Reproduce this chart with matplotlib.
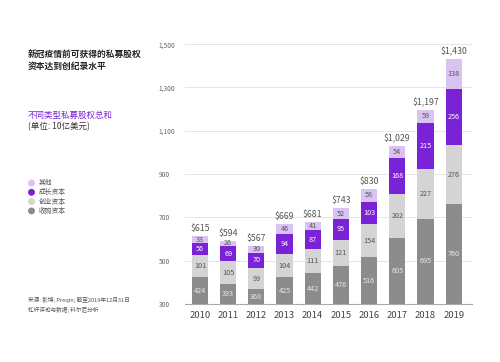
import matplotlib
matplotlib.use("Agg")
import matplotlib.pyplot as plt

plt.rcParams['font.family'] = ['Noto Sans CJK SC', 'DejaVu Sans']

years = ['2010', '2011', '2012', '2013', '2014', '2015', '2016', '2017', '2018', '2019']
buyout = [424, 393, 368, 425, 442, 476, 516, 605, 695, 760]
venture = [101, 105, 99, 104, 111, 121, 154, 202, 227, 276]
growth = [56, 69, 70, 94, 87, 95, 103, 168, 215, 256]
other = [33, 26, 30, 46, 41, 52, 58, 54, 59, 138]
totals = ['$615', '$594', '$567', '$669', '$681', '$743', '$830', '$1,029', '$1,197', '$1,430']
yticks = [300, 500, 700, 900, 1100, 1300, 1500]

series = [
    ('收购资本', buyout, '#8c8c8c', '#e8e8e8'),
    ('创业资本', venture, '#d4d4d4', '#555555'),
    ('成长资本', growth, '#7a22d6', '#ffffff'),
    ('其他', other, '#d9c3f3', '#555555'),
]

YMIN = 300
fig = plt.figure(figsize=(5, 3.62), dpi=100)
ax = fig.add_axes([0.37, 0.160, 0.574, 0.718])
ax.set_ylim(YMIN, 1500)
ax.set_xlim(-0.53, 9.65)

x = list(range(len(years)))
bottoms = [0] * len(years)
for name, vals, col, tcol in series:
    ax.bar(x, vals, bottom=bottoms, width=0.57, color=col, zorder=3)
    for i, v in enumerate(vals):
        lo = max(bottoms[i], YMIN)
        yc = (lo + bottoms[i] + v) / 2
        ax.text(i, yc, str(v), ha='center', va='center', fontsize=5.2, color=tcol, zorder=4)
    bottoms = [b + v for b, v in zip(bottoms, vals)]

for i, t in enumerate(totals):
    ax.text(i, bottoms[i] + 14, t, ha='center', va='bottom', fontsize=6.3, color='#555555', zorder=4)

ax.set_yticks(yticks)
ax.set_yticklabels([f'{v:,}' for v in yticks], fontsize=4.8, color='#666666', ha='left')
ax.tick_params(axis='y', length=0, pad=19)
ax.set_xticks(x)
ax.set_xticklabels(years, fontsize=6.8, color='#444444')
ax.tick_params(axis='x', length=0, pad=5)
for s in ['top', 'right', 'left']:
    ax.spines[s].set_visible(False)
ax.spines['bottom'].set_color('#aaaaaa')
ax.spines['bottom'].set_linewidth(0.8)
ax.grid(axis='y', color='#e6e6e6', linewidth=0.7, zorder=0)
ax.set_axisbelow(True)

fig.text(0.056, 0.862, '新冠疫情前可获得的私募股权\n资本达到创纪录水平', fontsize=6.3,
         fontweight='bold', color='#222222', va='top', linespacing=1.45)
fig.text(0.056, 0.695, '不同类型私募股权总和', fontsize=6.1, color='#7a22d6', va='top')
fig.text(0.056, 0.662, '(单位: 10亿美元)', fontsize=6.1, color='#333333', va='top')

leg_items = [('其他', '#d9c3f3'), ('成长资本', '#7a22d6'), ('创业资本', '#d4d4d4'), ('收购资本', '#8c8c8c')]
for k, (name, col) in enumerate(leg_items):
    yy = 1 - (183 + k * 9.3) / 362
    fig.patches.append(matplotlib.patches.Ellipse((0.063, yy), 0.011, 0.0152, transform=fig.transFigure,
                                                  color=col, figure=fig))
    fig.text(0.078, yy, name, fontsize=4.9, color='#555555', va='center')

fig.text(0.056, 1 - 300 / 362, '来源: 彭博; Preqin; 截至2019年12月31日', fontsize=4.1, color='#555555', va='center')
fig.text(0.056, 1 - 310 / 362, '杠杆评论与数据; 科尔尼分析', fontsize=4.1, color='#555555', va='center')

fig.savefig('out.png', dpi=100, facecolor='white')
